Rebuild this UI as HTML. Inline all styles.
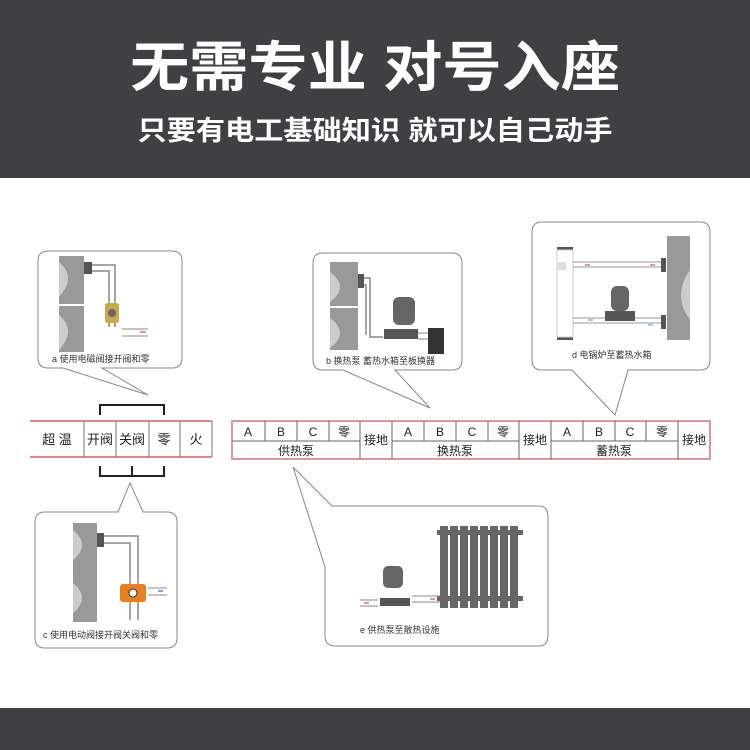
<!DOCTYPE html>
<html><head><meta charset="utf-8"><style>
html,body{margin:0;padding:0;background:#fff}
svg{display:block}
text{font-family:"Liberation Sans","Noto Sans CJK SC",sans-serif}
</style></head><body>
<svg width="750" height="750" viewBox="0 0 750 750" xmlns="http://www.w3.org/2000/svg">
<rect x="0" y="0" width="750" height="178" fill="#403f44"/>
<text x="375" y="86" fill="#fff" font-size="54" font-weight="bold" text-anchor="middle" textLength="490" lengthAdjust="spacingAndGlyphs">无需专业 对号入座</text>
<text x="375" y="140" fill="#fff" font-size="27" font-weight="bold" text-anchor="middle" textLength="475" lengthAdjust="spacingAndGlyphs">只要有电工基础知识 就可以自己动手</text>
<rect x="0" y="708" width="750" height="42" fill="#403f44"/>

<g fill="#fff" stroke="#888" stroke-width="1">
<!-- a -->
<path d="M48,251 H172 Q182,251 182,261 V358 Q182,368 172,368 H102 L148,395 L63,368 H48 Q38,368 38,358 V261 Q38,251 48,251 Z"/>
<!-- b -->
<path d="M323,253 H452 Q462,253 462,263 V360 Q462,370 452,370 H395 L430,408 L343,370 H323 Q313,370 313,360 V263 Q313,253 323,253 Z"/>
<!-- d -->
<path d="M542,222 H700 Q710,222 710,232 V360 Q710,370 700,370 H628 L615,415 L572,370 H542 Q532,370 532,360 V232 Q532,222 542,222 Z"/>
<!-- c -->
<path d="M45,512 H118 L130,483 L143,512 H167 Q177,512 177,522 V638 Q177,648 167,648 H45 Q35,648 35,638 V522 Q35,512 45,512 Z"/>
<!-- e -->
<path d="M335,506 H538 Q548,506 548,516 V636 Q548,646 538,646 H335 Q325,646 325,636 V567 L293,467 L332,506 Z"/>
</g>

<!-- brackets -->
<g fill="none" stroke="#222" stroke-width="2">
<path d="M100,415 V405 H164 V415"/>
<path d="M100,466 V476 H164 V466 M132,466 V476"/>
</g>

<!-- left table -->
<g stroke="#777" stroke-width="1" fill="none">
<line x1="30" y1="421" x2="212" y2="421" stroke="#d88" stroke-width="2"/>
<line x1="30" y1="457" x2="212" y2="457" stroke="#d88" stroke-width="2"/>
<line x1="84" y1="421" x2="84" y2="457"/><line x1="116" y1="421" x2="116" y2="457"/>
<line x1="149" y1="421" x2="149" y2="457"/><line x1="180" y1="421" x2="180" y2="457"/>
<line x1="212" y1="421" x2="212" y2="457"/>
</g>
<g font-size="13" fill="#222" text-anchor="middle">
<text x="57" y="444">超 温</text><text x="100" y="444">开阀</text><text x="132" y="444">关阀</text><text x="164" y="444">零</text><text x="196" y="444">火</text>
</g>

<!-- right table -->
<rect x="232" y="421" width="478" height="38" fill="none" stroke="#d99" stroke-width="2"/>
<g stroke="#666" stroke-width="1">
<line x1="232" y1="441" x2="360" y2="441"/><line x1="392" y1="441" x2="519" y2="441"/><line x1="551" y1="441" x2="678" y2="441"/>
<line x1="265" y1="421" x2="265" y2="441"/><line x1="297" y1="421" x2="297" y2="441"/><line x1="329" y1="421" x2="329" y2="441"/>
<line x1="424" y1="421" x2="424" y2="441"/><line x1="456" y1="421" x2="456" y2="441"/><line x1="488" y1="421" x2="488" y2="441"/>
<line x1="583" y1="421" x2="583" y2="441"/><line x1="615" y1="421" x2="615" y2="441"/><line x1="646" y1="421" x2="646" y2="441"/>
<line x1="360" y1="421" x2="360" y2="459"/><line x1="392" y1="421" x2="392" y2="459"/>
<line x1="519" y1="421" x2="519" y2="459"/><line x1="551" y1="421" x2="551" y2="459"/>
<line x1="678" y1="421" x2="678" y2="459"/>
</g>
<g font-size="12" fill="#222" text-anchor="middle">
<text x="248" y="436">A</text><text x="281" y="436">B</text><text x="313" y="436">C</text><text x="344" y="436">零</text>
<text x="408" y="436">A</text><text x="440" y="436">B</text><text x="472" y="436">C</text><text x="503" y="436">零</text>
<text x="567" y="436">A</text><text x="599" y="436">B</text><text x="630" y="436">C</text><text x="662" y="436">零</text>
<text x="296" y="455">供热泵</text><text x="455" y="455">换热泵</text><text x="614" y="455">蓄热泵</text>
<text x="376" y="444">接地</text><text x="535" y="444">接地</text><text x="694" y="444">接地</text>
</g>

<!-- illustrations: a -->
<g>
<rect x="59" y="256" width="25" height="48" fill="#999"/><path d="M59,262 q18,15 0,35" fill="#ccc"/>
<rect x="59" y="306" width="25" height="46" fill="#999"/><path d="M59,315 q18,15 0,35" fill="#ccc"/>
<rect x="84" y="262" width="8" height="12" fill="#555"/>
<path d="M92,265 H115 V327 M92,271 H109 V327" fill="none" stroke="#888" stroke-width="1.5"/>
<rect x="105" y="303" width="14" height="20" rx="3" fill="#c9a94a"/><circle cx="112" cy="313" r="4" fill="#666"/>
<path d="M122,329 H148 M122,336 H148" stroke="#888"/><path d="M140,332 h6" stroke="#c33"/>
<text x="52" y="362" font-size="9" fill="#333">a  使用电磁阀接开阀和零</text>
</g>
<!-- b -->
<g>
<rect x="330" y="262" width="28" height="44" fill="#999"/><path d="M330,272 q20,15 0,30" fill="#ccc"/>
<rect x="330" y="308" width="28" height="42" fill="#999"/><path d="M330,318 q20,15 0,30" fill="#ccc"/>
<rect x="358" y="274" width="6" height="14" fill="#555"/>
<path d="M364,278 H370 V337 H383 M364,285 H366 V335" fill="none" stroke="#888" stroke-width="1.5"/>
<rect x="393" y="297" width="22" height="28" rx="6" fill="#666"/>
<rect x="384" y="329" width="34" height="10" fill="#555"/>
<rect x="428" y="328" width="16" height="26" fill="#333"/>
<path d="M418,333 H428 M418,339 H428" stroke="#888"/>
<text x="326" y="364" font-size="9" fill="#333">b  换热泵  蓄热水箱至板换器</text>
</g>
<!-- d -->
<g>
<rect x="557" y="247" width="16" height="3" fill="#555"/><rect x="557" y="337" width="16" height="3" fill="#555"/>
<rect x="557" y="250" width="16" height="87" fill="#fff" stroke="#ccc"/>
<rect x="558" y="262" width="8" height="8" fill="#ddd"/>
<rect x="667" y="236" width="23" height="104" fill="#999"/><path d="M690,270 q-18,25 0,50" fill="#ccc"/>
<path d="M573,262 H661 M573,267 H661 M573,318 H661 M573,323 H661" stroke="#999"/>
<rect x="661" y="258" width="5" height="14" fill="#555"/><rect x="661" y="315" width="5" height="14" fill="#555"/>
<path d="M585,265 h5 M650,265 h5" stroke="#c33"/><path d="M588,320 h5 M648,325 h5" stroke="#39c"/>
<rect x="611" y="286" width="18" height="25" rx="6" fill="#666"/>
<rect x="605" y="311" width="30" height="10" fill="#555"/>
<text x="572" y="358" font-size="9" fill="#333">d  电锅炉至蓄热水箱</text>
</g>
<!-- c -->
<g>
<rect x="73" y="523" width="24" height="60" fill="#999"/><path d="M73,530 q18,15 0,30" fill="#ccc"/>
<rect x="73" y="565" width="24" height="57" fill="#999"/><path d="M73,583 q18,15 0,30" fill="#ccc"/>
<rect x="97" y="533" width="7" height="14" fill="#555"/>
<path d="M104,536 H138 V620 M104,543 H130 V620" fill="none" stroke="#888" stroke-width="1.5"/>
<rect x="120" y="584" width="26" height="18" rx="3" fill="#e67e22"/><circle cx="133" cy="593" r="4" fill="#fff" stroke="#333"/>
<path d="M148,588 H167 M148,595 H167" stroke="#888"/><path d="M158,591 h5" stroke="#33a"/>
<text x="43" y="638" font-size="9" fill="#333">c  使用电动阀接开阀关阀和零</text>
</g>
<!-- e -->
<g>
<g fill="#666">
<rect x="440" y="526" width="8" height="82"/><rect x="450" y="526" width="8" height="82"/><rect x="460" y="526" width="8" height="82"/>
<rect x="470" y="526" width="8" height="82"/><rect x="480" y="526" width="8" height="82"/><rect x="490" y="526" width="8" height="82"/>
<rect x="500" y="526" width="8" height="82"/><rect x="510" y="526" width="8" height="82"/>
<rect x="437" y="530" width="86" height="5"/><rect x="437" y="596" width="86" height="5"/>
</g>
<rect x="383" y="566" width="20" height="22" rx="5" fill="#666"/>
<rect x="380" y="598" width="30" height="8" fill="#555"/>
<path d="M360,600 H378 M360,606 H378 M412,596 H440 M412,602 H440" stroke="#888"/>
<path d="M364,603 h5 M430,599 h5" stroke="#c33"/>
<text x="360" y="633" font-size="9" fill="#333">e  供热泵至散热设施</text>
</g>
</svg>
</body></html>
